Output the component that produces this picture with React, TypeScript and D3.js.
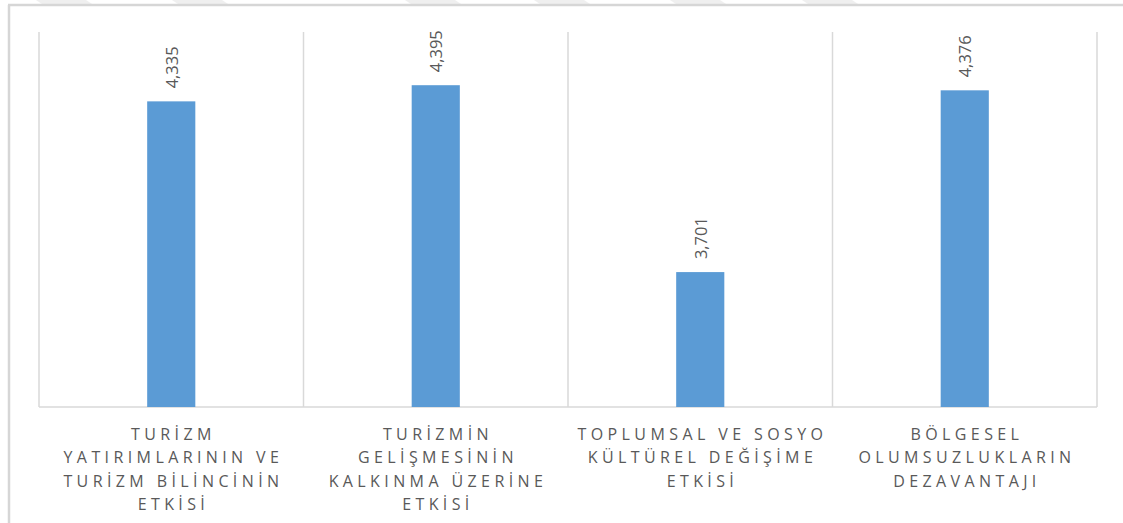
import React from "react";
import * as d3 from "d3";

const categories: string[][] = [
  ["TURİZM", "YATIRIMLARININ VE", "TURİZM BİLİNCİNİN", "ETKİSİ"],
  ["TURİZMİN", "GELİŞMESİNİN", "KALKINMA ÜZERİNE", "ETKİSİ"],
  ["TOPLUMSAL VE SOSYO", "KÜLTÜREL DEĞİŞİME", "ETKİSİ"],
  ["BÖLGESEL", "OLUMSUZLUKLARIN", "DEZAVANTAJI"],
];
const values: number[] = [4.335, 4.395, 3.701, 4.376];
const valueLabels: string[] = ["4,335", "4,395", "3,701", "4,376"];
const yDomain: [number, number] = [3.2, 4.6];

const W = 1123;
const H = 523;
const plotLeft = 39;
const plotRight = 1097;
const plotTop = 30;
const plotBottom = 407;

export default function App() {
  const keys = categories.map((_, i) => String(i));
  const x = d3.scaleBand<string>().domain(keys).range([plotLeft, plotRight]).padding(0);
  const y = d3.scaleLinear().domain(yDomain).range([plotBottom, plotTop]);
  const barW = x.bandwidth() * 0.182;
  const grid = d3.range(categories.length + 1).map((i) =>
    i < categories.length ? (x(keys[i]) as number) : plotRight
  );
  const watermark = [36, 172, 405, 534, 670, 802];
  const labelFont = "'Open Sans', 'DejaVu Sans', sans-serif";
  const ls = 4.4;

  return (
    <svg
      width={W}
      height={H}
      style={{ position: "absolute", left: 0, top: 0, background: "#fff" }}
    >
      {watermark.map((wx, i) => (
        <polygon
          key={"wm" + i}
          points={`${wx},0 ${wx + 50},0 ${wx + 56},4 ${wx + 6},4`}
          fill="#efefef"
        />
      ))}
      <line x1={8} x2={W} y1={5} y2={5} stroke="#d6d6d6" strokeWidth={2.5} />
      <line x1={9} x2={9} y1={5} y2={H} stroke="#d6d6d6" strokeWidth={2.5} />
      {grid.map((gx, i) => (
        <line
          key={"g" + i}
          x1={gx}
          x2={gx}
          y1={32}
          y2={plotBottom}
          stroke="#d9d9d9"
          strokeWidth={1.5}
        />
      ))}
      <line
        x1={plotLeft}
        x2={plotRight}
        y1={plotBottom}
        y2={plotBottom}
        stroke="#d9d9d9"
        strokeWidth={1.5}
      />
      {values.map((v, i) => {
        const cx = (x(keys[i]) as number) + x.bandwidth() / 2;
        const top = y(v);
        return (
          <g key={"b" + i}>
            <rect
              x={cx - barW / 2}
              y={top}
              width={barW}
              height={plotBottom - top}
              fill="#5b9bd5"
            />
            <text
              transform={`translate(${cx},${top - 13}) rotate(-90)`}
              textAnchor="start"
              dominantBaseline="central"
              fontFamily={labelFont}
              fontSize={16.5}
              fill="#595959"
            >
              {valueLabels[i]}
            </text>
          </g>
        );
      })}
      {categories.map((lines, i) => {
        const cx = (x(keys[i]) as number) + x.bandwidth() / 2;
        return (
          <text
            key={"c" + i}
            textAnchor="middle"
            fontFamily={labelFont}
            fontSize={16}
            letterSpacing={ls}
            fill="#595959"
          >
            {lines.map((ln, j) => (
              <tspan key={j} x={cx + ls / 2} y={440 + j * 23.4}>
                {ln}
              </tspan>
            ))}
          </text>
        );
      })}
    </svg>
  );
}
